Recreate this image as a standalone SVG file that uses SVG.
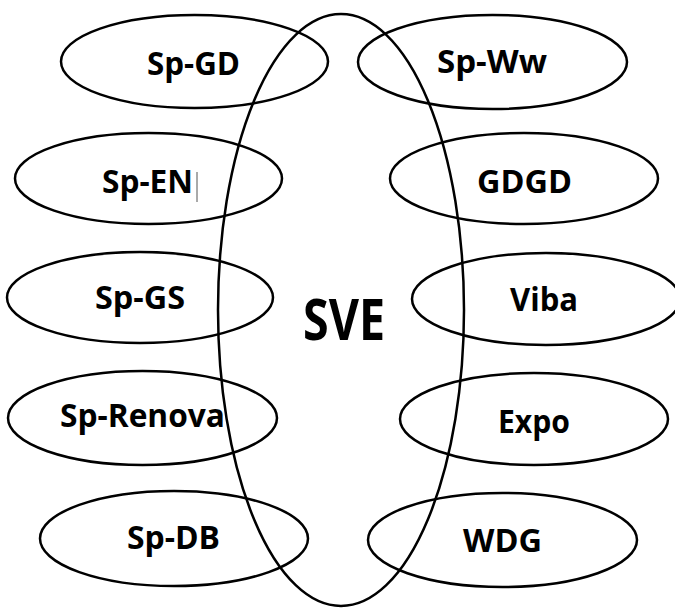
<svg xmlns="http://www.w3.org/2000/svg" width="675" height="608" viewBox="0 0 675 608">
<style>
.e{fill:none;stroke:#000;stroke-width:2.5}
.t{font-family:"Open Sans","Noto Sans","Liberation Sans",sans-serif;font-weight:bold;font-size:32px;fill:#000;text-anchor:middle}
.big{font-size:58px}
</style>
<rect width="675" height="608" fill="#fff"/>
<g id="connectors"></g>
<g id="SVE"><ellipse class="e" cx="341" cy="310" rx="123" ry="296"/><text class="t big" x="344" y="340" textLength="82" lengthAdjust="spacingAndGlyphs">SVE</text></g>
<g id="Sp-GD"><ellipse class="e" cx="194.5" cy="61.5" rx="133.5" ry="46.5"/><text class="t" x="193.5" y="75" textLength="93" lengthAdjust="spacingAndGlyphs">Sp-GD</text></g>
<g id="Sp-EN"><ellipse class="e" cx="148.5" cy="178.5" rx="133.5" ry="45.5"/><text class="t" x="147.5" y="193" textLength="91" lengthAdjust="spacingAndGlyphs">Sp-EN</text><line x1="197" y1="172" x2="197" y2="202" stroke="#555" stroke-width="1"/></g>
<g id="Sp-GS"><ellipse class="e" cx="140" cy="297.5" rx="133" ry="45.5"/><text class="t" x="140" y="309" textLength="90" lengthAdjust="spacingAndGlyphs">Sp-GS</text></g>
<g id="Sp-Renova"><ellipse class="e" cx="142.5" cy="418" rx="134.5" ry="47"/><text class="t" x="142.5" y="427" textLength="165" lengthAdjust="spacingAndGlyphs">Sp-Renova</text></g>
<g id="Sp-DB"><ellipse class="e" cx="174" cy="538.5" rx="134" ry="47.5"/><text class="t" x="173.5" y="549" textLength="93" lengthAdjust="spacingAndGlyphs">Sp-DB</text></g>
<g id="Sp-Ww"><ellipse class="e" cx="492.5" cy="62" rx="134.5" ry="47"/><text class="t" x="492" y="73" textLength="110" lengthAdjust="spacingAndGlyphs">Sp-Ww</text></g>
<g id="GDGD"><ellipse class="e" cx="524" cy="178.5" rx="134" ry="45.5"/><text class="t" x="524.5" y="193" textLength="95" lengthAdjust="spacingAndGlyphs">GDGD</text></g>
<g id="Viba"><ellipse class="e" cx="546" cy="299" rx="134" ry="46"/><text class="t" x="544" y="311" textLength="68" lengthAdjust="spacingAndGlyphs">Viba</text></g>
<g id="Expo"><ellipse class="e" cx="534" cy="419" rx="134" ry="46"/><text class="t" x="534" y="433" textLength="72" lengthAdjust="spacingAndGlyphs">Expo</text></g>
<g id="WDG"><ellipse class="e" cx="502.5" cy="540" rx="134.5" ry="47"/><text class="t" x="502.5" y="552" textLength="79" lengthAdjust="spacingAndGlyphs">WDG</text></g>
</svg>
